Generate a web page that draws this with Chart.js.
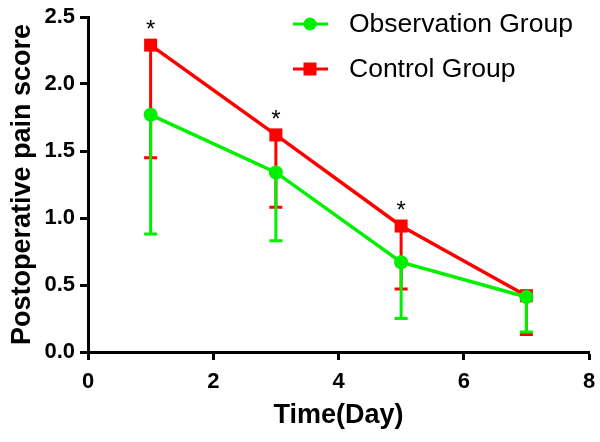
<!DOCTYPE html>
<html>
<head>
<meta charset="utf-8">
<script src="https://cdn.jsdelivr.net/npm/chart.js@4"></script>
<style>
  html, body { margin: 0; padding: 0; background: #fff; }
  #chart { display: block; }
</style>
</head>
<body>
<canvas id="chart" width="600" height="442"></canvas>
<script>
// ---------- Data ----------
const days = [1, 3, 5, 7];
const obsMean = [1.77, 1.34, 0.67, 0.41];
const obsLow = [0.88, 0.83, 0.25, 0.15];
const ctlMean = [2.29, 1.62, 0.94, 0.42];
const ctlLow = [1.45, 1.08, 0.47, 0.13];
const significant = [true, true, true, false];

const xTicks = [0, 2, 4, 6, 8];
const yTicks = [0, 0.5, 1.0, 1.5, 2.0, 2.5];

const GREEN = "#00f000";
const RED = "#ff0000";

function toPoints(xs, ys) {
    return xs.map((x, i) => ({ x: x, y: ys[i] }));
}

// ---------- Plugins ----------
const errorBars = {
    id: "errorBars",
    beforeDatasetsDraw(chart) {
        const ctx = chart.ctx;
        const xs = chart.scales.x, ys = chart.scales.y;
        const groups = [[ctlMean, ctlLow, RED], [obsMean, obsLow, GREEN]];
        ctx.save();
        ctx.lineWidth = 3;
        groups.forEach(([mean, low, color]) => {
            ctx.strokeStyle = color;
            days.forEach((d, i) => {
                const px = xs.getPixelForValue(d);
                const y0 = ys.getPixelForValue(mean[i]);
                const y1 = ys.getPixelForValue(low[i]);
                ctx.beginPath();
                ctx.moveTo(px, y0);
                ctx.lineTo(px, y1);
                ctx.moveTo(px - 6.5, y1);
                ctx.lineTo(px + 6.5, y1);
                ctx.stroke();
            });
        });
        ctx.restore();
    },
    afterDatasetsDraw(chart) {
        const ctx = chart.ctx;
        const xs = chart.scales.x, ys = chart.scales.y;
        ctx.save();
        ctx.fillStyle = "#000";
        ctx.font = "24px 'Liberation Sans', Arial, sans-serif";
        ctx.textAlign = "center";
        ctx.textBaseline = "middle";
        days.forEach((d, i) => {
            if (!significant[i]) return;
            ctx.fillText("*", xs.getPixelForValue(d), ys.getPixelForValue(ctlMean[i]) - 15);
        });
        ctx.restore();
    }
};

const legendBox = {
    id: "legendBox",
    afterDraw(chart) {
        const ctx = chart.ctx;
        const items = [
            ["Observation Group", GREEN, "circle", 24],
            ["Control Group", RED, "square", 69]
        ];
        ctx.save();
        items.forEach(([label, color, shape, y]) => {
            ctx.strokeStyle = color;
            ctx.fillStyle = color;
            ctx.lineWidth = 3;
            ctx.beginPath();
            ctx.moveTo(293, y);
            ctx.lineTo(328, y);
            ctx.stroke();
            if (shape === "circle") {
                ctx.beginPath();
                ctx.arc(310, y, 6.5, 0, Math.PI * 2);
                ctx.fill();
            } else {
                ctx.fillRect(303.5, y - 6.5, 13, 13);
            }
            ctx.fillStyle = "#000";
            ctx.font = "26.5px 'Liberation Sans', Arial, sans-serif";
            ctx.textAlign = "left";
            ctx.textBaseline = "middle";
            ctx.fillText(label, 349, y + 1);
        });
        ctx.restore();
    }
};

// ---------- Chart ----------
const tickFont = { family: "'Liberation Sans', Arial, sans-serif", size: 22, weight: "bold" };
const titleFont = { family: "'Liberation Sans', Arial, sans-serif", size: 27, weight: "bold" };

new Chart(document.getElementById("chart").getContext("2d"), {
    type: "line",
    data: {
        datasets: [
            {
                label: "Observation Group",
                data: toPoints(days, obsMean),
                borderColor: GREEN,
                backgroundColor: GREEN,
                borderWidth: 3.5,
                pointStyle: "circle",
                pointRadius: 7,
                pointBorderWidth: 0,
                tension: 0
            },
            {
                label: "Control Group",
                data: toPoints(days, ctlMean),
                borderColor: RED,
                backgroundColor: RED,
                borderWidth: 3.5,
                pointStyle: "rect",
                pointRadius: 9.2,
                pointBorderWidth: 0,
                tension: 0
            }
        ]
    },
    options: {
        responsive: false,
        animation: false,
        layout: { padding: { left: 0, top: 17, right: 11, bottom: 0 } },
        plugins: { legend: { display: false }, tooltip: { enabled: false } },
        scales: {
            x: {
                type: "linear",
                min: 0, max: 8,
                afterBuildTicks: s => { s.ticks = xTicks.map(v => ({ value: v })); },
                afterFit: s => { s.height = 90; s.paddingRight = 0; s.paddingLeft = 0; },
                grid: { drawOnChartArea: false, tickLength: 8, tickWidth: 3, tickColor: "#000" },
                border: { color: "#000", width: 3 },
                ticks: { color: "#000", font: tickFont, padding: 9, maxRotation: 0 },
                title: { display: true, text: "Time(Day)", color: "#000", font: titleFont, padding: { top: 0, bottom: 10 } }
            },
            y: {
                min: 0, max: 2.5,
                afterBuildTicks: s => { s.ticks = yTicks.map(v => ({ value: v })); },
                afterFit: s => { s.width = 88; s.paddingTop = 0; s.paddingBottom = 0; },
                grid: { drawOnChartArea: false, tickLength: 8, tickWidth: 3, tickColor: "#000" },
                border: { color: "#000", width: 3 },
                ticks: { color: "#000", font: tickFont, padding: 5, callback: v => v.toFixed(1) },
                title: { display: true, text: "Postoperative pain score", color: "#000", font: titleFont, padding: { top: 6, bottom: 0 } }
            }
        }
    },
    plugins: [errorBars, legendBox]
});
</script>
</body>
</html>
